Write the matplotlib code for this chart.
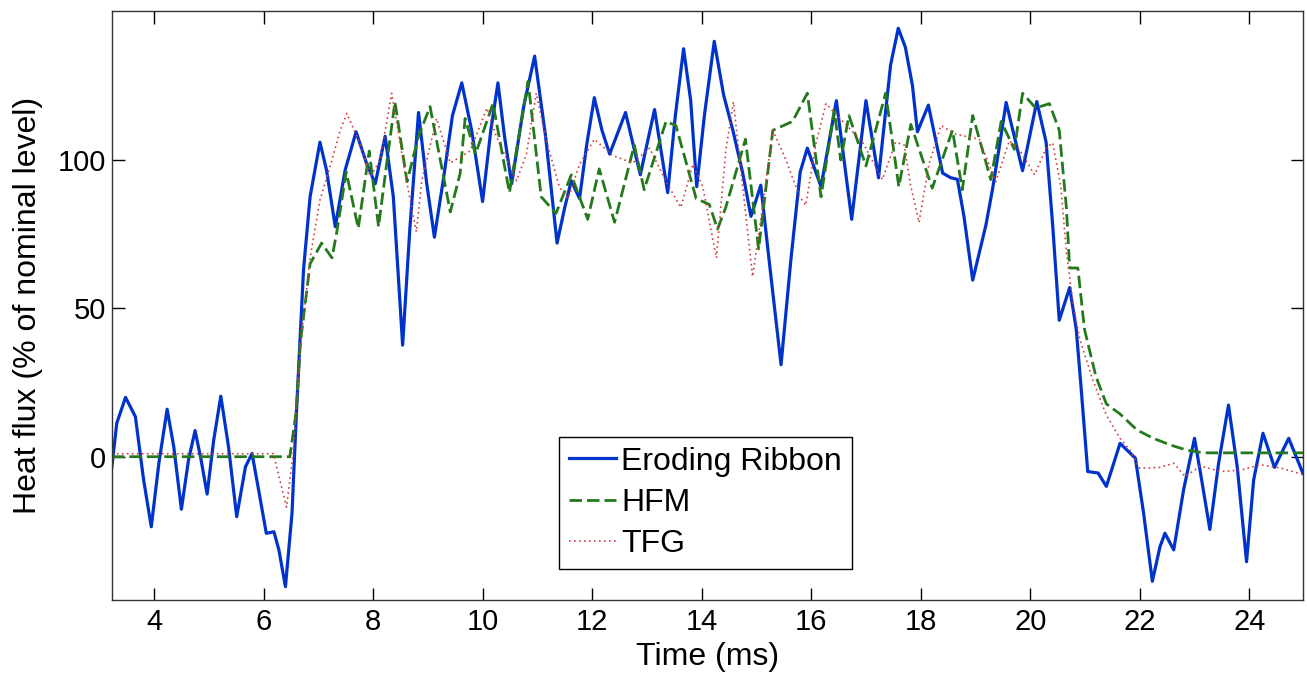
import matplotlib
matplotlib.use("Agg")
import matplotlib.pyplot as plt

plt.rcParams['font.family'] = ['Liberation Sans', 'DejaVu Sans']

# Eroding Ribbon
t_er = [3.23, 3.32, 3.48, 3.66, 3.81, 3.95, 4.09, 4.24, 4.36, 4.5, 4.63, 4.75, 4.86, 4.97,
        5.09, 5.22, 5.36, 5.51, 5.67, 5.79, 5.91, 6.05, 6.19, 6.28, 6.4, 6.52, 6.6, 6.73,
        6.85, 7.03, 7.15, 7.31, 7.49, 7.69, 7.88, 8.04, 8.22, 8.37, 8.54, 8.67, 8.83, 8.98,
        9.12, 9.28, 9.45, 9.62, 9.8, 10.0, 10.15, 10.28, 10.4, 10.53, 10.75, 10.95, 11.15,
        11.36, 11.5, 11.62, 11.77, 11.9, 12.04, 12.18, 12.32, 12.61, 12.88, 13.14, 13.38,
        13.52, 13.67, 13.8, 13.91, 14.05, 14.23, 14.4, 14.57, 14.75, 14.9, 15.08, 15.23,
        15.45, 15.63, 15.8, 15.93, 16.18, 16.46, 16.74, 17.0, 17.23, 17.45, 17.59, 17.72,
        17.85, 17.94, 18.14, 18.4, 18.55, 18.67, 18.79, 18.95, 19.19, 19.31, 19.44, 19.56,
        19.86, 20.12, 20.29, 20.41, 20.53, 20.72, 20.84, 20.93, 21.05, 21.24, 21.39, 21.64,
        21.92, 22.07, 22.23, 22.37, 22.46, 22.62, 22.8, 23.0, 23.13, 23.28, 23.44, 23.62,
        23.78, 23.95, 24.08, 24.25, 24.46, 24.72, 24.98]
v_er = [-3.4, 11.3, 20, 13.5, -7.8, -23.6, -2, 16, 3.4, -17.7, -1.1, 8.8, -1.1, -12.6,
        5.6, 20.4, 3.4, -20.2, -3.4, 1.1, -11.2, -25.8, -25.3, -31.4, -43.8, -19, 14.6, 63,
        87.6, 106, 96.6, 77.5, 96.6, 109.5, 98.9, 92, 108, 87.6, 37.6, 76.4, 116, 92,
        74, 93, 115, 126, 110, 86, 110, 126, 108, 92, 118, 135, 108,
        72, 84, 93, 87, 105, 121, 110, 102, 116, 95, 117, 89,
        115, 137.5, 120, 91, 115, 140, 122, 110, 95.6, 81, 91.5, 66.5,
        31, 66.5, 96, 104, 91, 120, 80, 120, 94, 132, 144.4, 138,
        125, 109.5, 118.5, 95.6, 94, 93.5, 81, 59.5, 78, 90, 105, 119.4,
        96.4, 119.7, 106, 78, 46, 57, 43, 23, -5, -5.5, -10, 4.5,
        -0.5, -19, -42, -30.3, -25.8, -31.4, -11.2, 6.2, -7.8, -24.5, -2.2, 17.4,
        -3.4, -35.4, -7.8, 7.9, -3.6, 6.2, -5.6]

# HFM
t_hfm = [3.23, 6.48, 6.6, 6.67, 6.85, 7.06, 7.25, 7.34, 7.51, 7.73, 7.93, 8.1, 8.25,
         8.4, 8.62, 8.83, 9.04, 9.41, 9.59, 9.68, 9.87, 10.19, 10.49, 10.83, 11.07, 11.34,
         11.62, 11.92, 12.13, 12.41, 12.77, 12.95, 13.35, 13.53, 13.9, 14.14, 14.29, 14.44,
         14.8, 15.04, 15.3, 15.66, 15.93, 16.18, 16.42, 16.54, 16.69, 17.0, 17.36, 17.6,
         17.82, 18.21, 18.58, 18.76, 18.95, 19.28, 19.47, 19.71, 19.86, 20.1, 20.35,
         20.53, 20.66, 20.72, 20.87, 20.99, 21.2, 21.39, 21.64, 21.95, 22.25, 22.55,
         22.86, 23.17, 24.98]
v_hfm = [0, 0, 15.6, 38, 65, 72, 67, 76, 96, 77, 103, 77.5, 99,
         119.6, 92.7, 108, 118, 82.5, 95.5, 114, 102, 119, 89, 126.5, 87.6, 82,
         95, 80, 97, 79, 105, 90, 113, 111.6, 87, 85, 76.7, 84,
         107, 70, 110, 113, 122.5, 87.6, 116.7, 100, 115, 98, 122.5, 91,
         112, 90.5, 110, 90, 115, 93.4, 113, 103.6, 122.5, 117.5, 119,
         110, 84, 63.6, 63.6, 43, 27, 17.8, 14.4, 9, 6.2, 4.0,
         2.2, 1.3, 1.3]

# TFG
t_tfg = [3.23, 6.18, 6.3, 6.42, 6.54, 6.67, 6.85, 7.03, 7.25, 7.4, 7.52, 7.76, 7.95, 8.13,
         8.34, 8.61, 8.79, 8.89, 9.16, 9.41, 9.77, 10.08, 10.25, 10.62, 10.8, 10.98, 11.16,
         11.4, 11.56, 11.77, 12.04, 12.38, 12.74, 13.05, 13.35, 13.62, 13.84, 14.02, 14.27,
         14.44, 14.58, 14.75, 14.93, 15.11, 15.3, 15.54, 15.78, 15.9, 16.09, 16.27, 16.63,
         16.94, 17.3, 17.54, 17.7, 17.82, 17.97, 18.15, 18.37, 18.64, 19.07, 19.37, 19.62,
         19.8, 20.08, 20.29, 20.41, 20.56, 20.66, 20.78, 20.9, 21.14, 21.39, 21.64, 21.82,
         22.0, 22.37, 22.62, 22.83, 23.11, 23.48, 23.85, 24.2, 24.57, 24.98]
v_tfg = [1, 1, -8, -17, 1, 37, 67, 86.5, 100, 110, 115.7, 105.6, 94.4, 100,
         122.5, 93, 75.8, 93, 114, 99, 103, 117.5, 108, 93, 102, 122.5, 107,
         91, 87, 98.5, 107, 101.5, 99, 104, 92.7, 84, 98.5, 91, 67,
         103, 119.6, 91, 60.7, 84, 110, 100, 88, 84.7, 105.8, 119, 112,
         106, 93.4, 106, 105, 91, 79, 98.5, 111.6, 108.7, 107, 92.7, 106.5,
         103.6, 95, 104, 105.8, 91, 69, 52, 40, 26, 14, 6.2, 2.2,
         -3.9, -3.6, -2.2, -6.7, -3.1, -5, -4.5, -2.7, -3.8, -6]

fig = plt.figure(figsize=(13.07, 6.77), dpi=100)
ax = fig.add_axes([0.0857, 0.1137, 0.9112, 0.870])

ax.plot(t_er, v_er, color="#0033cc", lw=2.3, label="Eroding Ribbon")
ax.plot(t_hfm, v_hfm, color="#237a1c", lw=2.0, ls=(0, (4.5, 1.8)), label="HFM")
ax.plot(t_tfg, v_tfg, color="#d04040", lw=1.2, ls=(0, (1, 2)), label="TFG")

ax.set_xlim(3.233, 24.98)
ax.set_ylim(-48.3, 150.2)
ax.set_xticks(range(4, 25, 2))
ax.set_yticks([0, 50, 100])
ax.tick_params(direction="in", length=9, width=1, top=True, right=True, labelsize=21)
ax.tick_params(axis="x", pad=6)
ax.tick_params(axis="y", pad=4)
for s in ax.spines.values():
    s.set_linewidth(1)
    s.set_color("#333333")

ax.set_xlabel("Time (ms)", fontsize=23, labelpad=4)
ax.set_ylabel("Heat flux (% of nominal level)", fontsize=23, labelpad=11)

leg = ax.legend(loc="lower left", bbox_to_anchor=(0.3753, 0.0535), borderaxespad=0,
                fontsize=23, handlelength=1.5, handletextpad=0.15, labelspacing=0.35,
                fancybox=False, framealpha=1, edgecolor="black", borderpad=0.3)
leg.get_frame().set_linewidth(1)

plt.savefig("out.png", dpi=100)
